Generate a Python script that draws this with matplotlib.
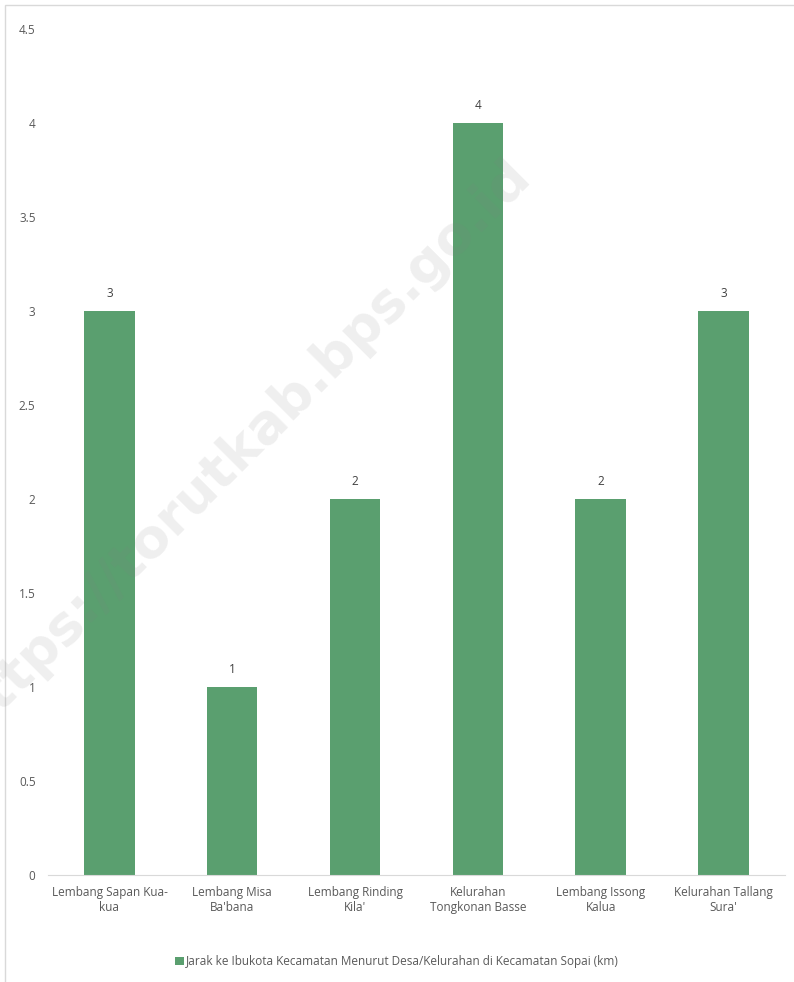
import matplotlib.pyplot as plt
from matplotlib.patches import Rectangle

categories = ["Lembang Sapan Kua-\nkua", "Lembang Misa\nBa'bana", "Lembang Rinding\nKila'",
              "Kelurahan\nTongkonan Basse", "Lembang Issong\nKalua", "Kelurahan Tallang\nSura'"]
values = [3, 1, 2, 4, 2, 3]
series_name = "Jarak ke Ibukota Kecamatan Menurut Desa/Kelurahan di Kecamatan Sopai (km)"
yticks = [0, 0.5, 1, 1.5, 2, 2.5, 3, 3.5, 4, 4.5]
ytick_labels = ["0", "0.5", "1", "1.5", "2", "2.5", "3", "3.5", "4", "4.5"]

plt.rcParams['font.family'] = ['Open Sans', 'DejaVu Sans']
green = '#5A9F6F'
text_col = '#595959'

fig = plt.figure(figsize=(7.94, 9.82), dpi=100)
ax = fig.add_axes([0.0605, 0.109, 0.928, 0.8615])

x = range(len(categories))
bars = ax.bar(x, values, width=0.41, color=green, label=series_name, zorder=2)
for b, v in zip(bars, values):
    ax.annotate(str(v), (b.get_x() + b.get_width() / 2, v), xytext=(0, 8),
                textcoords='offset points', ha='center', va='bottom',
                fontsize=8.5, color='#404040')

ax.set_xlim(-0.5, len(categories) - 0.5)
ax.set_ylim(0, 4.5)
ax.set_yticks(yticks)
ax.set_yticklabels(ytick_labels)
ax.set_xticks(list(x))
ax.set_xticklabels(categories)
ax.tick_params(axis='both', length=0, labelsize=8.5, colors=text_col)
ax.tick_params(axis='x', pad=8)
ax.tick_params(axis='y', pad=9)
for s in ['top', 'right', 'left']:
    ax.spines[s].set_visible(False)
ax.spines['bottom'].set_color('#d9d9d9')

leg = fig.legend(loc='center', bbox_to_anchor=(0.5, 0.021), frameon=False,
                 fontsize=8.5, handlelength=0.7, handleheight=0.7, handletextpad=0.2)
for t in leg.get_texts():
    t.set_color(text_col)

# faint frame around chart area
fig.patches.append(Rectangle((0.006, -0.01), 1.0, 1.005, transform=fig.transFigure,
                             fill=False, edgecolor='#d9d9d9', linewidth=1))

# watermark
fig.text(0.305, 0.545, "https://torutkab.bps.go.id", fontsize=39, fontweight='bold',
         family='DejaVu Sans', color='gray', alpha=0.13, rotation=45,
         ha='center', va='center', zorder=10)

fig.savefig('out.png', dpi=100)
